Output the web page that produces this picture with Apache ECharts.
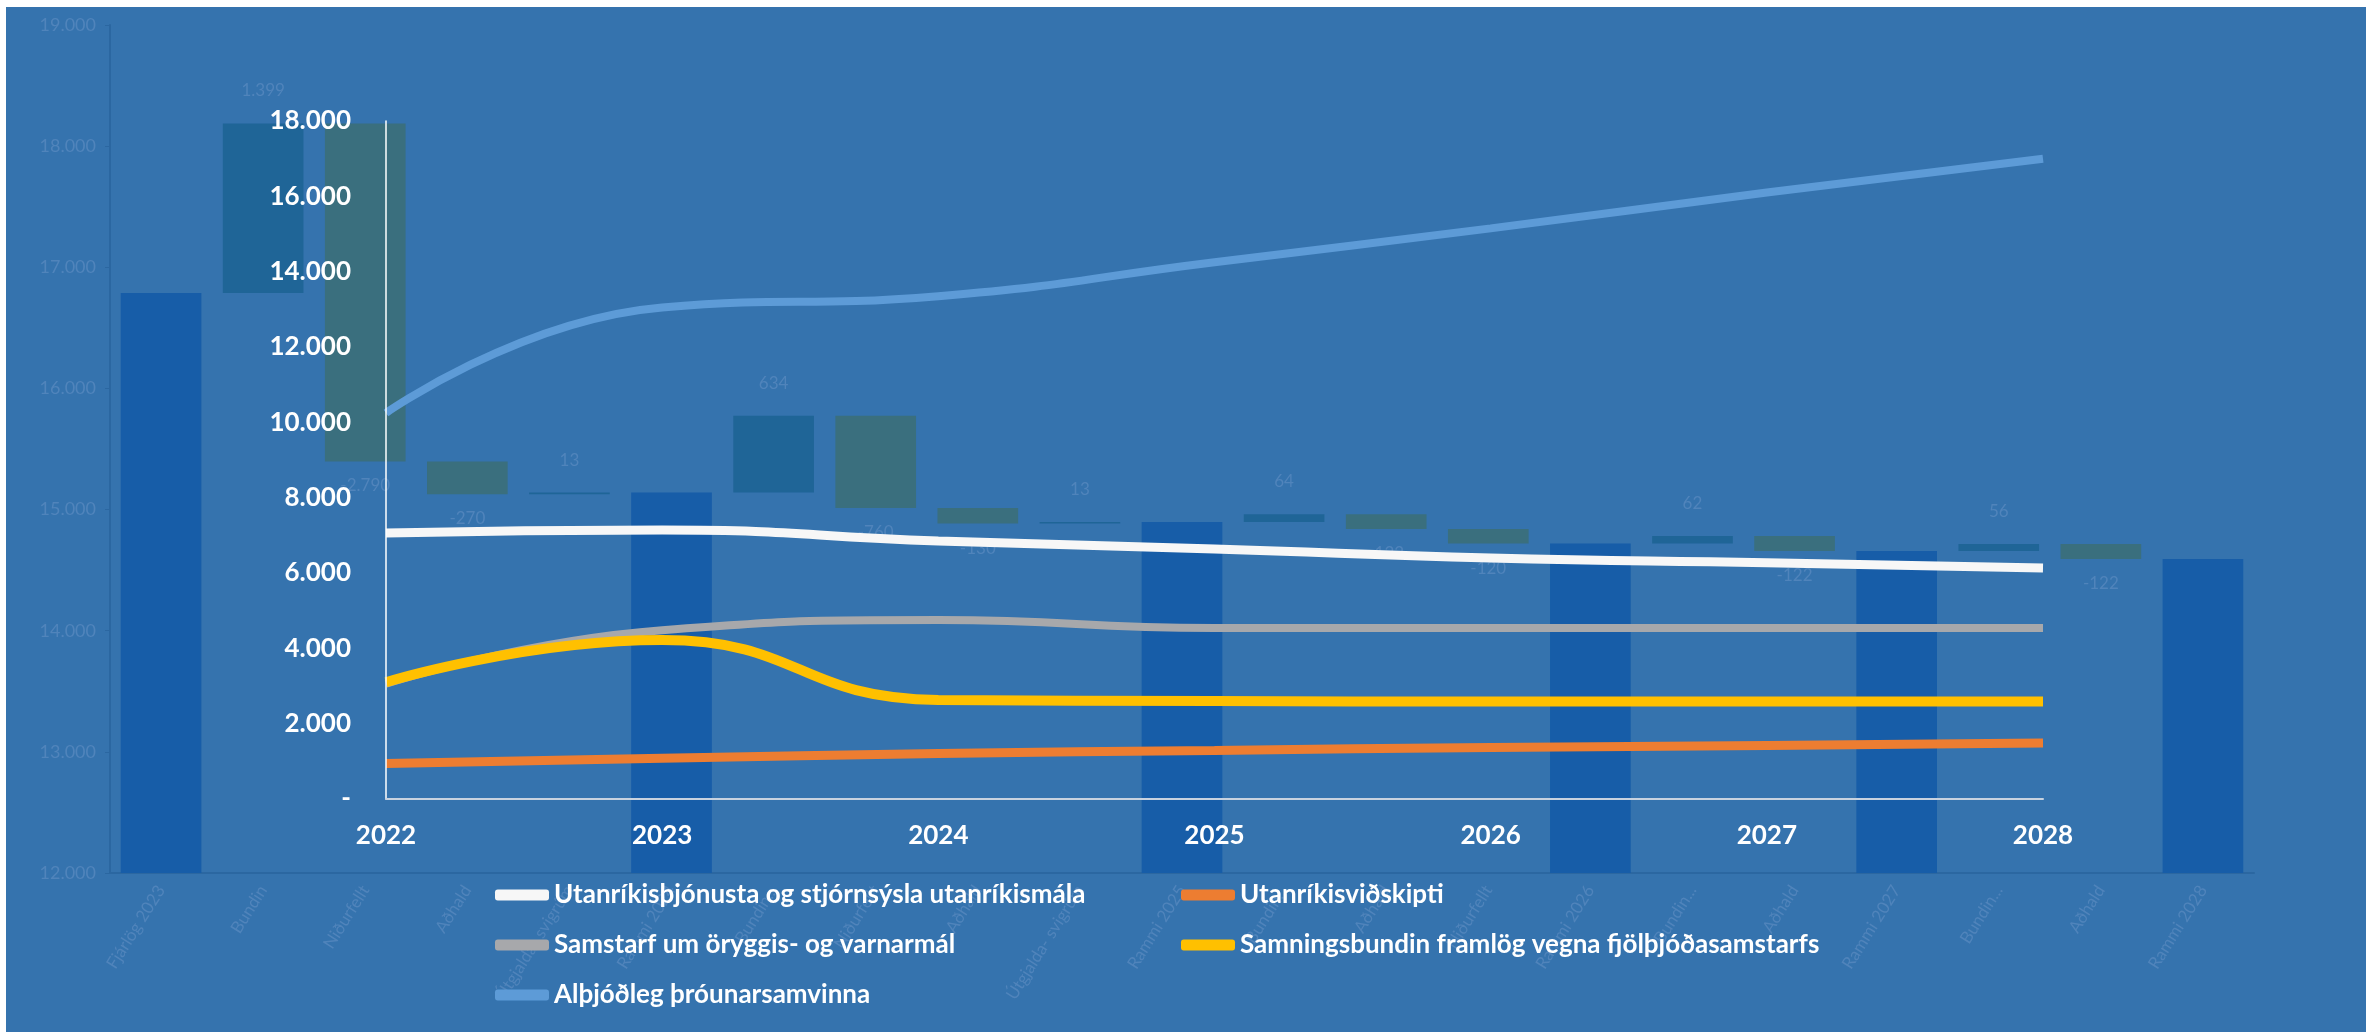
<!DOCTYPE html>
<html><head><meta charset="utf-8">
<script src="https://cdn.jsdelivr.net/npm/echarts@6/dist/echarts.min.js"></script>
<style>
html,body{margin:0;padding:0;background:#ffffff;width:2366px;height:1032px;overflow:hidden;}
#bg{position:absolute;left:6px;top:7px;right:0;bottom:0;background:#3573ae;}
#chart{position:absolute;left:0;top:0;width:2366px;height:1032px;}
</style></head><body><div id="bg"></div><div id="chart"></div>
<script>
// ---- background waterfall (faded) ----
const wfCategories = ['Fjárlög 2023','Bundin','Niðurfellt','Aðhald','Útgjalda- svigrúm','Rammi 2024','Bundin...','Niðurfellt','Aðhald','Útgjalda- svigrúm','Rammi 2025','Bundin...','Aðhald','Niðurfellt','Rammi 2026','Bundin...','Aðhald','Rammi 2027','Bundin...','Aðhald','Rammi 2028'];
const wfTypes = ['total','inc','dec','dec','inc','total','inc','dec','dec','inc','total','inc','dec','dec','total','inc','dec','total','inc','dec','total'];
const wfValues = [16788,1399,-2790,-270,13,15140,634,-760,-130,13,14897,64,-122,-120,14719,62,-122,14659,56,-122,14593];
const wfTicks = [12000,13000,14000,15000,16000,17000,18000,19000];

// ---- foreground line chart ----
const years = ['2022','2023','2024','2025','2026','2027','2028'];
const serviceAdmin = [7060,7140,6850,6640,6400,6270,6130];
const foreignTrade = [940,1080,1210,1290,1370,1420,1490];
const security = [3060,4480,4750,4540,4540,4540,4540];
const multilateral = [3100,4220,2630,2600,2590,2590,2590];
const development = [10250,13050,13350,14250,15150,16100,17000];
const seriesNames = ['Utanríkisþjónusta og stjórnsýsla utanríkismála','Utanríkisviðskipti','Samstarf um öryggis- og varnarmál','Samningsbundin framlög vegna fjölþjóðasamstarfs','Alþjóðleg þróunarsamvinna'];
const fgTicks = [0,2000,4000,6000,8000,10000,12000,14000,16000,18000];

function fmt(v){
  const s = String(Math.abs(Math.round(v))).replace(/\B(?=(\d{3})+(?!\d))/g,'.');
  return (v < 0 ? '-' : '') + s;
}

// build waterfall base/height
const COL_TOTAL = '#175da8', COL_INC = '#1f6597', COL_DEC = '#3a6f7e';
const baseData = [], barData = [];
let level = 0;
wfValues.forEach((v,i)=>{
  const t = wfTypes[i];
  if (t === 'total') {
    level = v;
    baseData.push(0);
    barData.push({value: v, itemStyle:{color: COL_TOTAL}, label:{show:false}});
  } else if (t === 'inc') {
    baseData.push(level);
    barData.push({value: v, itemStyle:{color: COL_INC},
      label:{show:true, position:'top', distance:24, formatter: fmt(v)}});
    level += v;
  } else {
    level += v;
    baseData.push(level);
    barData.push({value: -v, itemStyle:{color: COL_DEC},
      label:{show:true, position:'bottom', distance:16, formatter: fmt(v)}});
  }
});

const faint = '#5084bb';
const FONT = 'Lato, "Open Sans", sans-serif';
const colors = ['#f7f7f7','#ed7d31','#a7a8ab','#ffc000','#5d9bd7'];
const widths = [9,9,8,10,8];
const fgData = [serviceAdmin, foreignTrade, security, multilateral, development];

const chart = echarts.init(document.getElementById('chart'), null, {renderer:'canvas'});
const legendText = {color:'#ffffff', fontSize:26, fontWeight:'bold', fontFamily:FONT, lineHeight:28};
const option = {
  backgroundColor: 'transparent',
  animation: false,
  grid: [
    {left:110, right:112, top:25, bottom:159},
    {left:386, right:323, top:121, bottom:233}
  ],
  legend: [
    {data:[seriesNames[0],seriesNames[2],seriesNames[4]], orient:'vertical', left:490, top:876,
     itemWidth:54, itemHeight:11, itemGap:22, icon:'roundRect', textStyle:legendText},
    {data:[seriesNames[1],seriesNames[3]], orient:'vertical', left:1176, top:876,
     itemWidth:54, itemHeight:11, itemGap:22, icon:'roundRect', textStyle:legendText}
  ],
  xAxis: [
    {type:'category', gridIndex:0, data: wfCategories,
     axisLine:{show:true, lineStyle:{color:'#2b67a1', width:2}},
     axisTick:{show:false},
     axisLabel:{rotate:58, color:faint, fontSize:17, fontFamily:FONT, margin:14, interval:0}},
    {type:'category', gridIndex:1, data: years, boundaryGap:false, z:6,
     axisLine:{show:true, lineStyle:{color:'#c8d2df', width:2}},
     axisTick:{show:false},
     axisLabel:{color:'#ffffff', fontSize:26, fontWeight:'bold', fontFamily:FONT, margin:24}}
  ],
  yAxis: [
    {type:'value', gridIndex:0, min:wfTicks[0], max:wfTicks[wfTicks.length-1], interval:1000,
     axisLine:{show:true, lineStyle:{color:'#2b67a1', width:2}},
     axisTick:{show:true, length:5, lineStyle:{color:'#2b67a1'}},
     splitLine:{show:false},
     axisLabel:{color:faint, fontSize:18, fontFamily:FONT, margin:14, formatter: v=>fmt(v)}},
    {type:'value', gridIndex:1, min:fgTicks[0], max:fgTicks[fgTicks.length-1], interval:2000, z:6,
     axisLine:{show:true, lineStyle:{color:'#ffffff', width:1.5}},
     axisTick:{show:false},
     splitLine:{show:false},
     axisLabel:{color:'#ffffff', fontSize:26, fontWeight:'bold', fontFamily:FONT, margin:35,
       formatter: v => v === 0 ? '-' : fmt(v)}}
  ],
  series: [
    {type:'bar', xAxisIndex:0, yAxisIndex:0, stack:'wf', data: baseData, barCategoryGap:'21%',
     itemStyle:{color:'transparent'}, silent:true, z:1},
    {type:'bar', xAxisIndex:0, yAxisIndex:0, stack:'wf', data: barData, barCategoryGap:'21%', z:1,
     label:{color:faint, fontSize:17, fontFamily:FONT}}
  ].concat(fgData.map((d,i)=>({
    name: seriesNames[i], type:'line', xAxisIndex:1, yAxisIndex:1, data:d,
    smooth:0.5, symbol:'none', showSymbol:false, z:5+i*0.1,
    itemStyle:{color:colors[i]},
    lineStyle:{color:colors[i], width:widths[i]}
  })))
};
chart.setOption(option);
</script></body></html>
